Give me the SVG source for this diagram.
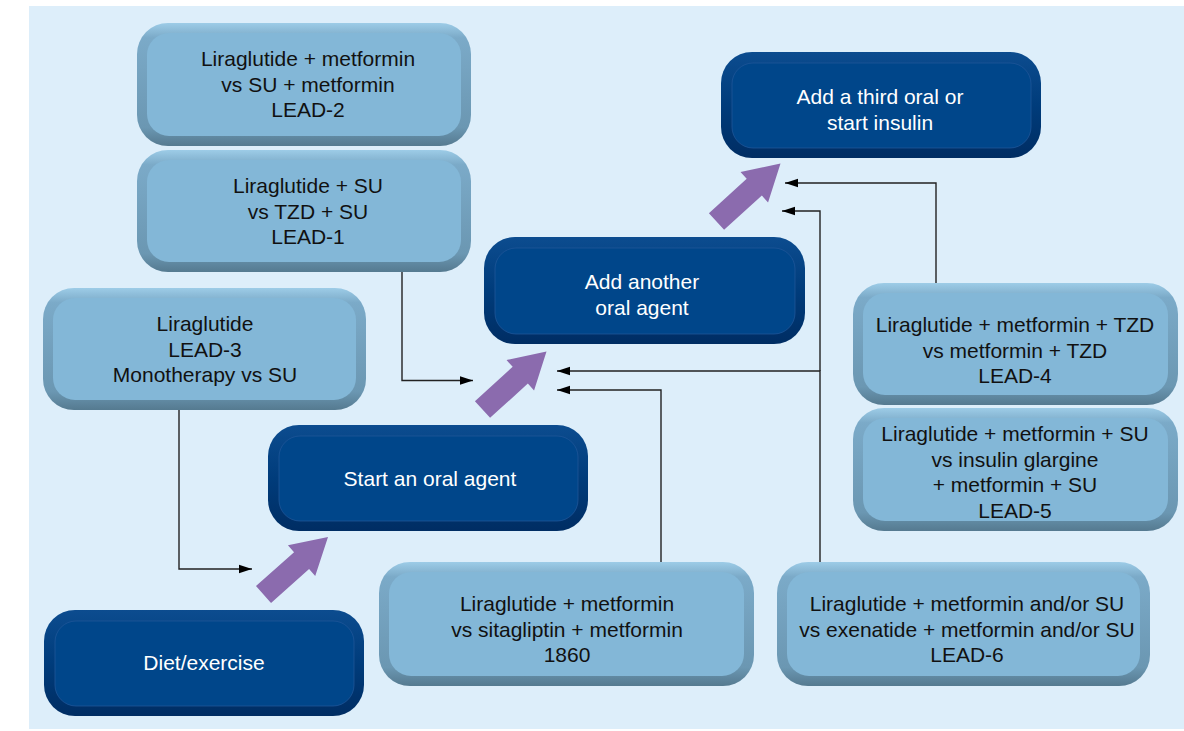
<svg xmlns="http://www.w3.org/2000/svg" width="1184" height="731" viewBox="0 0 1184 731">
<defs>
<style>
.t{font-family:"Liberation Sans",Arial,sans-serif;font-size:21px;text-anchor:middle}
.dk{fill:#111}
.wt{fill:#fff}
.lface{fill:#83B7D7}
.dface{fill:#00468A;stroke:#1E5698;stroke-width:0.8}
.conn{fill:none;stroke:#222;stroke-width:1.4}
.pa{fill:#8B6BAE}
</style>
<linearGradient id="lring" x1="0" y1="0" x2="0" y2="1">
<stop offset="0" stop-color="#9DCCE7"/>
<stop offset="0.12" stop-color="#7BAAC8"/>
<stop offset="0.85" stop-color="#6B97B2"/>
<stop offset="1" stop-color="#557A90"/>
</linearGradient>
<linearGradient id="dring" x1="0" y1="0" x2="0" y2="1">
<stop offset="0" stop-color="#0C4C8F"/>
<stop offset="0.5" stop-color="#003C7B"/>
<stop offset="1" stop-color="#002D63"/>
</linearGradient>
<marker id="ah" markerUnits="userSpaceOnUse" markerWidth="14" markerHeight="10" refX="13" refY="5" orient="auto">
<path d="M0,0.8 L13,5 L0,9.2 Z" fill="#000"/>
</marker>
<polygon id="parrow" points="0,-11.3 51,-11.3 51,-20.5 86.4,0 51,20.5 51,11.3 0,11.3"/>
</defs>
<rect x="0" y="0" width="1184" height="731" fill="#fff"/>
<rect x="29" y="6" width="1155" height="723" fill="#DDEEFA"/>

<g id="connectors">
<polyline class="conn" points="402,272 402,380.5 473,380.5" marker-end="url(#ah)"/>
<polyline class="conn" points="179,410 179,569 252,569" marker-end="url(#ah)"/>
<polyline class="conn" points="661,562 661,390 557,390" marker-end="url(#ah)"/>
<polyline class="conn" points="820,562 820,371 557,371" marker-end="url(#ah)"/>
<polyline class="conn" points="820,371 820,211 782,211" marker-end="url(#ah)"/>
<polyline class="conn" points="936,283 936,183 785,183" marker-end="url(#ah)"/>
</g>

<g id="arrows">
<use href="#parrow" class="pa" transform="translate(263.5,594.5) rotate(-41.7)"/>
<use href="#parrow" class="pa" transform="translate(482.5,409.5) rotate(-42.2)"/>
<use href="#parrow" class="pa" transform="translate(716.5,221.5) rotate(-42.2)"/>
</g>

<g id="lead2">
<rect x="137" y="23" width="334" height="123" rx="31" fill="url(#lring)"/>
<rect x="147" y="33" width="314" height="103" rx="22" class="lface"/>
<text class="t dk"><tspan x="308" y="66">Liraglutide + metformin</tspan><tspan x="308" y="91.5">vs SU + metformin</tspan><tspan x="308" y="117">LEAD-2</tspan></text>
</g>

<g id="lead1">
<rect x="137" y="150" width="334" height="122" rx="31" fill="url(#lring)"/>
<rect x="147" y="160" width="314" height="102" rx="22" class="lface"/>
<text class="t dk"><tspan x="308" y="193">Liraglutide + SU</tspan><tspan x="308" y="218.5">vs TZD + SU</tspan><tspan x="308" y="244">LEAD-1</tspan></text>
</g>

<g id="lead3">
<rect x="43" y="288" width="323" height="122" rx="31" fill="url(#lring)"/>
<rect x="53" y="298" width="303" height="102" rx="22" class="lface"/>
<text class="t dk"><tspan x="205" y="331">Liraglutide</tspan><tspan x="205" y="356.5">LEAD-3</tspan><tspan x="205" y="382">Monotherapy vs SU</tspan></text>
</g>

<g id="start-oral">
<rect x="268" y="425" width="320" height="106" rx="31" fill="url(#dring)"/>
<rect x="279" y="436" width="299" height="85" rx="21" class="dface"/>
<text class="t wt" x="430" y="486">Start an oral agent</text>
</g>

<g id="diet">
<rect x="44" y="610" width="320" height="106" rx="31" fill="url(#dring)"/>
<rect x="55" y="621" width="299" height="85" rx="21" class="dface"/>
<text class="t wt" x="204" y="670">Diet/exercise</text>
</g>

<g id="add-another">
<rect x="484" y="237" width="321" height="107" rx="31" fill="url(#dring)"/>
<rect x="495" y="248" width="300" height="86" rx="21" class="dface"/>
<text class="t wt"><tspan x="642" y="289">Add another</tspan><tspan x="642" y="314.5">oral agent</tspan></text>
</g>

<g id="add-third">
<rect x="721" y="52" width="320" height="106" rx="31" fill="url(#dring)"/>
<rect x="732" y="63" width="299" height="85" rx="21" class="dface"/>
<text class="t wt"><tspan x="880" y="104">Add a third oral or</tspan><tspan x="880" y="129.5">start insulin</tspan></text>
</g>

<g id="lead4">
<rect x="853" y="283" width="325" height="122" rx="31" fill="url(#lring)"/>
<rect x="863" y="293" width="305" height="102" rx="22" class="lface"/>
<text class="t dk"><tspan x="1015" y="332">Liraglutide + metformin + TZD</tspan><tspan x="1015" y="357.5">vs metformin + TZD</tspan><tspan x="1015" y="383">LEAD-4</tspan></text>
</g>

<g id="lead5">
<rect x="853" y="408" width="325" height="123" rx="31" fill="url(#lring)"/>
<rect x="863" y="418" width="305" height="103" rx="22" class="lface"/>
<text class="t dk"><tspan x="1015" y="441">Liraglutide + metformin + SU</tspan><tspan x="1015" y="466.5">vs insulin glargine</tspan><tspan x="1015" y="492">+ metformin + SU</tspan><tspan x="1015" y="517.5">LEAD-5</tspan></text>
</g>

<g id="trial1860">
<rect x="379" y="562" width="375" height="124" rx="31" fill="url(#lring)"/>
<rect x="389" y="572" width="355" height="104" rx="22" class="lface"/>
<text class="t dk"><tspan x="567" y="611">Liraglutide + metformin</tspan><tspan x="567" y="636.5">vs sitagliptin + metformin</tspan><tspan x="567" y="662">1860</tspan></text>
</g>

<g id="lead6">
<rect x="777" y="562" width="373" height="124" rx="31" fill="url(#lring)"/>
<rect x="787" y="572" width="353" height="104" rx="22" class="lface"/>
<text class="t dk"><tspan x="967" y="611">Liraglutide + metformin and/or SU</tspan><tspan x="967" y="636.5">vs exenatide + metformin and/or SU</tspan><tspan x="967" y="662">LEAD-6</tspan></text>
</g>
</svg>
